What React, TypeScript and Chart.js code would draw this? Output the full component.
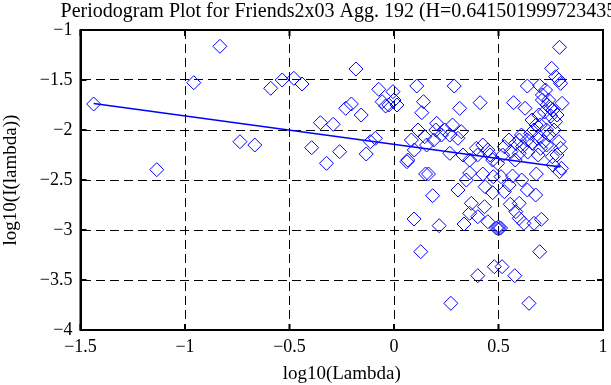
import React, { useEffect, useRef } from "react";
import { Chart, registerables } from "chart.js";

Chart.register(...registerables);

const TITLE = "Periodogram Plot for Friends2x03 Agg. 192 (H=0.641501999723435)";
const X_LABEL = "log10(Lambda)";
const Y_LABEL = "log10(I(lambda))";

const xTicks = [-1.5, -1, -0.5, 0, 0.5, 1];
const yTicks = [-1, -1.5, -2, -2.5, -3, -3.5, -4];

// periodogram points: log10(frequency), log10(intensity)
const logLambda = [
  -1.437, -1.135, -0.958, -0.833, -0.737, -0.666, -0.590, -0.535, -0.479, -0.440,
  -0.394, -0.352, -0.323, -0.291, -0.260, -0.231, -0.204, -0.182, -0.157, -0.133,
  -0.113, -0.089, -0.073, -0.057, -0.040, -0.025, -0.005, 0.000, 0.014, 0.062,
  0.066, 0.083, 0.097, 0.109, 0.096, 0.115, 0.128, 0.133, 0.141, 0.147,
  0.151, 0.156, 0.165, 0.185, 0.204, 0.216, 0.227, 0.243, 0.267, 0.267,
  0.272, 0.288, 0.306, 0.306, 0.314, 0.322, 0.335, 0.346, 0.362, 0.362,
  0.362, 0.370, 0.394, 0.401, 0.401, 0.412, 0.425, 0.425, 0.433, 0.436,
  0.449, 0.449, 0.472, 0.472, 0.475, 0.480, 0.496, 0.490, 0.500, 0.510,
  0.500, 0.512, 0.517, 0.528, 0.528, 0.551, 0.556, 0.559, 0.567, 0.572,
  0.578, 0.583, 0.583, 0.599, 0.599, 0.599, 0.611, 0.615, 0.622, 0.627,
  0.638, 0.638, 0.638, 0.646, 0.654, 0.662, 0.670, 0.670, 0.678, 0.681,
  0.686, 0.693, 0.697, 0.697, 0.701, 0.705, 0.710, 0.717, 0.725, 0.733,
  0.741, 0.749, 0.754, 0.757, 0.765, 0.773, 0.773, 0.789, 0.789, 0.792,
  0.792, 0.797, 0.797, 0.801, 0.804, 0.710, 0.740, 0.760, 0.720, 0.750,
  0.780, 0.700, 0.730, 0.680, 0.660, 0.610, 0.600, 0.550, 0.520, 0.460,
  0.400, 0.330, 0.190, 0.200, 0.280, 0.730, 0.780, 0.690, 0.640, 0.580,
  0.760,
];
const logI = [
  -1.740, -2.397, -1.527, -1.163, -2.117, -2.150, -1.583, -1.500, -1.483, -1.540,
  -2.177, -1.927, -2.333, -1.943, -2.217, -1.783, -1.740, -1.390, -1.850, -2.240,
  -2.117, -2.083, -1.593, -1.717, -1.760, -1.750, -1.617, -1.700, -1.750, -2.317,
  -2.300, -2.100, -2.200, -1.560, -2.890, -2.000, -3.217, -1.827, -1.717, -2.067,
  -2.440, -2.150, -2.440, -2.657, -1.933, -2.957, -2.050, -2.000, -2.050, -2.233,
  -3.733, -1.560, -2.083, -2.600, -1.783, -2.017, -2.940, -2.500, -2.300, -2.430,
  -2.833, -2.733, -2.183, -2.867, -3.457, -1.727, -2.150, -2.440, -2.767, -2.567,
  -2.200, -2.917, -2.300, -2.627, -2.467, -3.367, -2.333, -2.980, -2.990, -2.980,
  -2.970, -2.467, -3.367, -2.167, -2.617, -2.550, -2.743, -2.217, -2.460, -1.727,
  -3.457, -2.133, -2.817, -2.233, -2.733, -2.883, -2.500, -2.167, -2.933, -1.783,
  -1.560, -2.100, -2.600, -3.733, -2.033, -2.133, -2.000, -2.933, -2.650, -2.440,
  -2.083, -1.850, -1.557, -3.217, -2.183, -2.893, -1.700, -2.117, -1.600, -1.750,
  -2.050, -1.783, -1.383, -2.267, -2.000, -1.467, -1.917, -1.500, -2.117, -1.173,
  -2.417, -1.533, -2.183, -2.383, -1.733, -1.650, -1.700, -1.800, -1.820, -1.860,
  -1.850, -1.950, -2.000, -1.950, -1.900, -2.050, -2.100, -2.100, -2.250, -2.250,
  -2.250, -2.250, -2.100, -2.000, -1.950, -2.150, -2.250, -2.250, -2.220, -2.300,
  -2.350,
];

// least-squares fit line endpoints
const fitX = [-1.437, 0.797];
const fitY = [-1.735, -2.370];

const SERIF = "'Liberation Serif', 'Times New Roman', serif";
const BLUE = "#0000ff";

const fmt = (v: number) => String(v).replace("-", "\u2212");

export default function App() {
  const ref = useRef<HTMLCanvasElement | null>(null);

  useEffect(() => {
    document.body.style.margin = "0";
    const canvas = ref.current;
    if (!canvas) return;

    const framePlugin = {
      id: "frame",
      afterDatasetsDraw(chart: any) {
        const { ctx, chartArea: a, scales } = chart;
        ctx.save();
        ctx.strokeStyle = "#000";
        ctx.lineWidth = 2;
        ctx.setLineDash([]);
        ctx.strokeRect(a.left, a.top, a.right - a.left, a.bottom - a.top);
        const tl = 6;
        ctx.beginPath();
        for (const v of xTicks) {
          const px = scales.x.getPixelForValue(v);
          ctx.moveTo(px, a.bottom);
          ctx.lineTo(px, a.bottom - tl);
          ctx.moveTo(px, a.top);
          ctx.lineTo(px, a.top + tl);
        }
        for (const v of yTicks) {
          const py = scales.y.getPixelForValue(v);
          ctx.moveTo(a.left, py);
          ctx.lineTo(a.left + tl, py);
          ctx.moveTo(a.right, py);
          ctx.lineTo(a.right - tl, py);
        }
        ctx.stroke();
        // x tick labels
        ctx.fillStyle = "#000";
        ctx.font = `18px ${SERIF}`;
        ctx.textAlign = "center";
        ctx.textBaseline = "middle";
        for (const v of xTicks) {
          const px = scales.x.getPixelForValue(v);
          ctx.fillText(fmt(v), px, a.bottom + 17);
        }
        ctx.restore();
      },
      afterDraw(chart: any) {
        const { ctx, chartArea: a } = chart;
        ctx.save();
        ctx.fillStyle = "#000";
        ctx.font = `20px ${SERIF}`;
        ctx.textAlign = "center";
        ctx.textBaseline = "alphabetic";
        ctx.fillText(TITLE, (a.left + a.right) / 2, 17);
        ctx.restore();
      },
    };

    const chart = new Chart(canvas, {
      type: "scatter",
      data: {
        datasets: [
          {
            label: "fit",
            data: fitX.map((x, i) => ({ x, y: fitY[i] })),
            showLine: true,
            borderColor: BLUE,
            borderWidth: 1.5,
            pointRadius: 0,
            fill: false,
          },
          {
            label: "periodogram",
            data: logLambda.map((x, i) => ({ x, y: logI[i] })),
            showLine: false,
            pointStyle: "rectRot",
            pointRadius: 7,
            pointBorderWidth: 1,
            pointBorderColor: BLUE,
            pointBackgroundColor: "rgba(0,0,0,0)",
            borderColor: BLUE,
            backgroundColor: "rgba(0,0,0,0)",
          },
        ],
      },
      options: {
        animation: false,
        responsive: false,
        maintainAspectRatio: false,
        layout: { padding: { top: 30, right: 3, left: 0, bottom: 0 } },
        plugins: {
          legend: { display: false },
          tooltip: { enabled: false },
          title: { display: false },
        },
        scales: {
          x: {
            type: "linear",
            min: -1.5,
            max: 1,
            afterBuildTicks: (s: any) => {
              s.ticks = xTicks.map((v) => ({ value: v }));
            },
            afterFit: (s: any) => {
              s.height = 55;
            },
            ticks: { display: false },
            grid: { color: "#000", lineWidth: 1, drawTicks: false },
            border: { display: true, color: "#000", width: 2, dash: [9, 5] },
            title: {
              display: true,
              text: X_LABEL,
              font: { family: SERIF, size: 19 },
              color: "#000",
              padding: 0,
            },
          },
          y: {
            type: "linear",
            min: -4,
            max: -1,
            afterBuildTicks: (s: any) => {
              s.ticks = yTicks.map((v) => ({ value: v }));
            },
            afterFit: (s: any) => {
              s.width = 80.5;
              s.paddingTop = 0;
              s.paddingBottom = 0;
            },
            ticks: {
              callback: (v: any) => fmt(Number(v)),
              font: { family: SERIF, size: 18 },
              color: "#000",
              padding: 8,
              autoSkip: false,
            },
            grid: { color: "#000", lineWidth: 1, drawTicks: false },
            border: { display: true, color: "#000", width: 2, dash: [9, 5] },
            title: {
              display: true,
              text: Y_LABEL,
              font: { family: SERIF, size: 19 },
              color: "#000",
              padding: 0,
            },
          },
        },
      },
      plugins: [framePlugin],
    } as any);

    return () => chart.destroy();
  }, []);

  return <canvas ref={ref} width={611} height={385} style={{ display: "block" }} />;
}
